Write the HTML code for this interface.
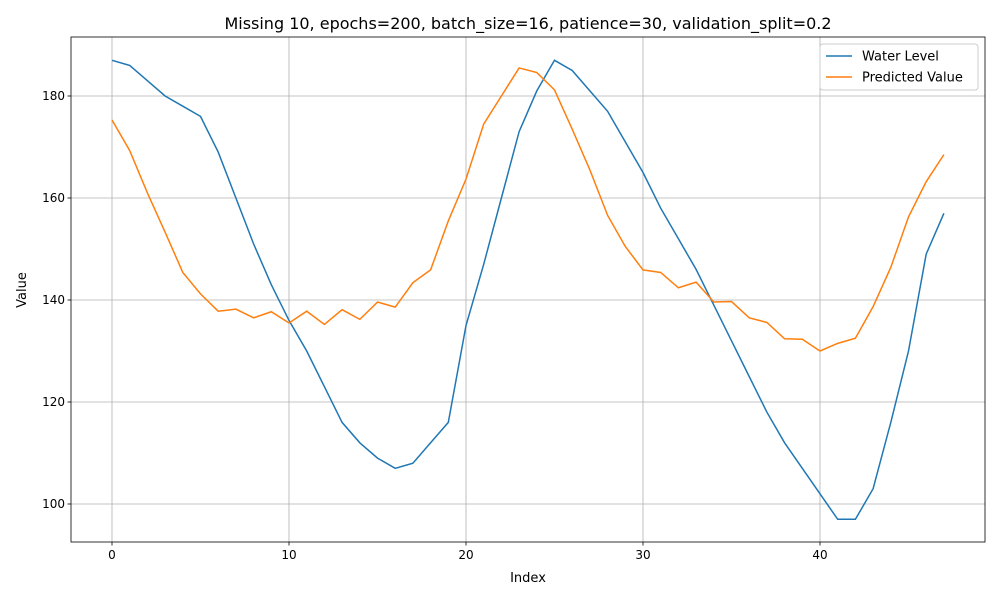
<!DOCTYPE html>
<html><head><meta charset="utf-8"><style>
body{margin:0;background:#fff;font-family:"Liberation Sans","DejaVu Sans",sans-serif}
svg text{font-family:"DejaVu Sans","Liberation Sans",sans-serif}
</style></head><body>
<svg id="chart" width="1000" height="600" xmlns="http://www.w3.org/2000/svg"></svg>
<script>
const indices = Array.from({length:48},(_,i)=>i);
const waterLevel = [187,186,183,180,178,176,169,160,151,143,136,130,123,116,112,109,107,108,112,116,135,147,160,173,181,187,185,181,177,171,165,158,152,146,139,132,125,118,112,107,102,97,97,103,116,130,149,157];
const predicted = [175.3,169.3,161,153.3,145.4,141.2,137.8,138.2,136.5,137.7,135.5,137.8,135.2,138.1,136.2,139.6,138.6,143.4,145.9,155.5,163.7,174.5,180,185.5,184.6,181.2,173.5,165.5,156.6,150.5,145.9,145.4,142.4,143.5,139.6,139.7,136.5,135.6,132.4,132.3,130,131.5,132.5,138.7,146.4,156.3,163.2,168.5];
const xTicks = [0,10,20,30,40];
const yTicks = [100,120,140,160,180];

const L=71,R=985,T=37,B=542;
const xs=v=>112+(v-0)*(289-112)/10;
const ys=v=>504-(v-100)*(504-96)/80;
const svg=document.getElementById('chart');
const NS='http://www.w3.org/2000/svg';
function el(tag,attrs,parent){const e=document.createElementNS(NS,tag);for(const k in attrs)e.setAttribute(k,attrs[k]);(parent||svg).appendChild(e);return e;}

const bg=el('rect',{x:L,y:T,width:R-L,height:B-T,fill:'#fff'});



xTicks.forEach(t=>{
  const g=el('line',{x1:xs(t),x2:xs(t),y1:T,y2:B,stroke:'#b0b0b0','stroke-width':0.8});
  
  
  el('line',{x1:xs(t),x2:xs(t),y1:B,y2:B+3.5,stroke:'#000','stroke-width':0.8});
  const tx=el('text',{x:xs(t),y:B+17,'font-size':12,'text-anchor':'middle'});
  tx.textContent=t;
  
  
});
yTicks.forEach(t=>{
  const g=el('line',{x1:L,x2:R,y1:ys(t),y2:ys(t),stroke:'#b0b0b0','stroke-width':0.8});
  
  
  el('line',{x1:L-3.5,x2:L,y1:ys(t),y2:ys(t),stroke:'#000','stroke-width':0.8});
  const tx=el('text',{x:L-6,y:ys(t)+4,'font-size':12,'text-anchor':'end'});
  tx.textContent=t;
  
  
});

function line(data,color,name){
  const p=el('polyline',{points:data.map((v,i)=>xs(indices[i])+','+ys(v)).join(' '),fill:'none',stroke:color,'stroke-width':1.5});
  
  
}
line(waterLevel,'#1f77b4','water-level-line');
line(predicted,'#ff7f0e','predicted-value-line');

const fr=el('rect',{x:L,y:T,width:R-L,height:B-T,fill:'none',stroke:'#000','stroke-width':0.8});



const title=el('text',{x:528,y:29,'font-size':16,'text-anchor':'middle'});
title.textContent='Missing 10, epochs=200, batch_size=16, patience=30, validation_split=0.2';


const xl=el('text',{x:528,y:582,'font-size':13,'text-anchor':'middle'});
xl.textContent='Index';


const yl=el('text',{x:26,y:290,'font-size':13,'text-anchor':'middle',transform:'rotate(-90 26 290)'});
yl.textContent='Value';



const lg=el('rect',{x:820,y:44,width:158,height:46,rx:3,fill:'#fff','fill-opacity':0.8,stroke:'#ccc'});


[['Water Level','#1f77b4',56],['Predicted Value','#ff7f0e',77]].forEach(([n,c,y])=>{
  const s=el('line',{x1:826,x2:852,y1:y,y2:y,stroke:c,'stroke-width':1.5});
  
  
  const t=el('text',{x:862,y:y+4.5,'font-size':13});
  t.textContent=n;
  
  
});
</script>
</body></html>
